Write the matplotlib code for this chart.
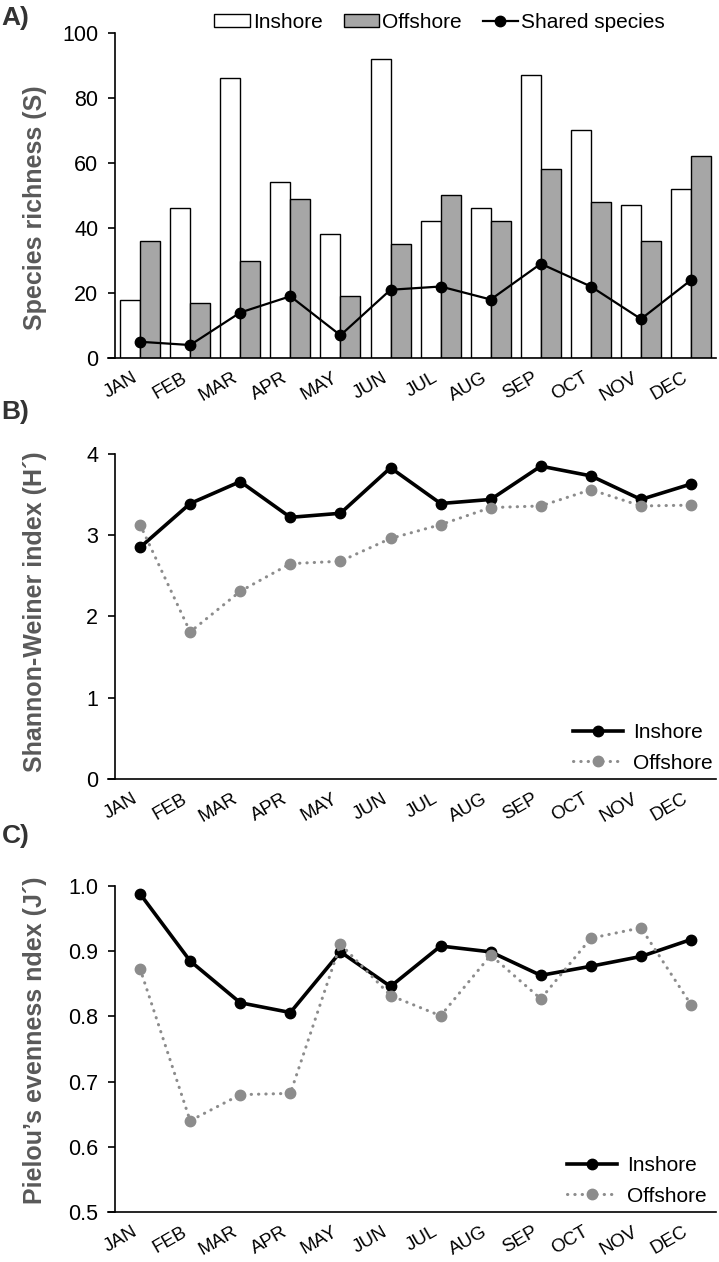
import numpy as np
import matplotlib.pyplot as plt

# =========================================================
# DATA
# =========================================================

months = ['JAN', 'FEB', 'MAR', 'APR', 'MAY', 'JUN',
          'JUL', 'AUG', 'SEP', 'OCT', 'NOV', 'DEC']

richness_inshore = [18, 46, 86, 54, 38, 92, 42, 46, 87, 70, 47, 52]
richness_offshore = [36, 17, 30, 49, 19, 35, 50, 42, 58, 48, 36, 62]
shared_species = [5, 4, 14, 19, 7, 21, 22, 18, 29, 22, 12, 24]

shannon_inshore = [2.85, 3.39, 3.66, 3.22, 3.27, 3.83, 3.39, 3.44, 3.85, 3.73, 3.44, 3.63]
shannon_offshore = [3.13, 1.81, 2.31, 2.65, 2.68, 2.96, 3.13, 3.34, 3.36, 3.56, 3.36, 3.37]

pielou_inshore = [0.988, 0.885, 0.821, 0.806, 0.899, 0.846, 0.908, 0.899, 0.863, 0.877, 0.892, 0.918]
pielou_offshore = [0.873, 0.640, 0.680, 0.682, 0.911, 0.832, 0.801, 0.894, 0.827, 0.920, 0.936, 0.818]

# =========================================================
# STYLE
# =========================================================

plt.rcParams['font.family'] = ['Liberation Sans', 'DejaVu Sans']

LABEL_COLOR = '#595959'
GREY_BAR = '#a6a6a6'
GREY_LINE = '#8c8c8c'
DOTTED = (0, (0.1, 2.3))

fig = plt.figure(figsize=(7.19, 12.62), dpi=100)

ax_a = fig.add_axes([0.160, 0.7163, 0.836, 0.2576])
ax_b = fig.add_axes([0.160, 0.3827, 0.836, 0.2576])
ax_c = fig.add_axes([0.160, 0.0396, 0.836, 0.2583])

x = np.arange(len(months))


def style_axes(ax):
    for side in ['top', 'right']:
        ax.spines[side].set_visible(False)
    for side in ['left', 'bottom']:
        ax.spines[side].set_linewidth(1.2)
        ax.spines[side].set_color('black')
    ax.tick_params(axis='y', direction='out', length=5, width=1.2,
                   labelsize=15.5, pad=7)
    ax.tick_params(axis='x', length=0, labelsize=13.5, pad=8)
    ax.set_xticks(x)
    ax.set_xticklabels(months, rotation=30, ha='right')
    ax.set_xlim(-0.5, 11.5)
    # let the x axis run a little past the y axis, like the tick at zero
    ax.spines['bottom'].set_bounds(-0.5 - 0.14, 11.5)
    ax.spines['bottom'].set_clip_on(False)


# =========================================================
# PANEL A
# =========================================================

w = 0.4
h_in = ax_a.bar(x - w / 2, richness_inshore, width=w, color='white',
                edgecolor='black', linewidth=1, label='Inshore')
h_off = ax_a.bar(x + w / 2, richness_offshore, width=w, color=GREY_BAR,
                 edgecolor='black', linewidth=1, label='Offshore')
h_sh, = ax_a.plot(x, shared_species, color='black', linewidth=1.6,
                  marker='o', markersize=7.5, label='Shared species')
ax_a.set_ylim(0, 100)
ax_a.set_yticks([0, 20, 40, 60, 80, 100])
style_axes(ax_a)
ax_a.legend(handles=[h_in, h_off, h_sh], loc='center',
            bbox_to_anchor=(0.54, 1.033), ncol=3, frameon=False,
            fontsize=15, handlelength=1.7, handleheight=0.55,
            handletextpad=0.15, columnspacing=1.0, borderaxespad=0)

# =========================================================
# PANEL B
# =========================================================

ax_b.plot(x, shannon_inshore, color='black', linewidth=2.6,
          marker='o', markersize=7.5, label='Inshore')
ax_b.plot(x, shannon_offshore, color=GREY_LINE, linewidth=2.2,
          linestyle=DOTTED, dash_capstyle='round',
          marker='o', markersize=7.5, label='Offshore')
ax_b.set_ylim(0, 4)
ax_b.set_yticks([0, 1, 2, 3, 4])
style_axes(ax_b)
ax_b.legend(loc='lower right', bbox_to_anchor=(0.995, 0.02), frameon=False,
            fontsize=15, handlelength=2.4, handletextpad=0.5,
            labelspacing=0.55, borderpad=0, borderaxespad=0)

# =========================================================
# PANEL C
# =========================================================

ax_c.plot(x, pielou_inshore, color='black', linewidth=2.6,
          marker='o', markersize=7.5, label='Inshore')
ax_c.plot(x, pielou_offshore, color=GREY_LINE, linewidth=2.2,
          linestyle=DOTTED, dash_capstyle='round',
          marker='o', markersize=7.5, label='Offshore')
ax_c.set_ylim(0.5, 1.0)
ax_c.set_yticks([0.5, 0.6, 0.7, 0.8, 0.9, 1.0])
ax_c.set_yticklabels(['0.5', '0.6', '0.7', '0.8', '0.9', '1.0'])
style_axes(ax_c)
ax_c.legend(loc='lower right', bbox_to_anchor=(0.985, 0.02), frameon=False,
            fontsize=15, handlelength=2.4, handletextpad=0.5,
            labelspacing=0.55, borderpad=0, borderaxespad=0)

# =========================================================
# AXIS TITLES AND PANEL LETTERS
# =========================================================

ylabels = [
    ('Species richness (S)', 1 - 208 / 1262),
    ('Shannon-Weiner index (H\u00b4)', 1 - 612 / 1262),
    ('Pielou\u2019s evenness ndex (J\u00b4)', 1 - 1040 / 1262),
]
for text, ypos in ylabels:
    fig.text(35 / 719, ypos, text, rotation=90, ha='center', va='center',
             fontsize=18, fontweight='bold', color=LABEL_COLOR)

for label, ypos in [('A)', 1 - 18 / 1262), ('B)', 1 - 412 / 1262),
                    ('C)', 1 - 836 / 1262)]:
    fig.text(0.002, ypos, label, fontsize=19, fontweight='bold',
             color='#333333', va='center', ha='left')

fig.savefig('out.png', dpi=100)
